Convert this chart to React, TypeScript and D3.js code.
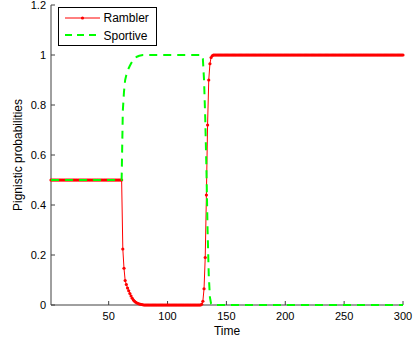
import React from "react";
import * as d3 from "d3";

// Time domain and tick labels
const timeDomain: [number, number] = [1, 300];
const xTicks = [50, 100, 150, 200, 250, 300];
const yTicks = [0, 0.2, 0.4, 0.6, 0.8, 1, 1.2];

// Constant runs: [fromTime, toTime, value]
const ramblerRuns: [number, number, number][] = [
  [1, 61, 0.5],
  [80, 128, 0],
  [139, 300, 1],
];
// Individual readings during transitions: [time, value]
const ramblerPoints: [number, number][] = [
  [62, 0.224], [63, 0.147], [64, 0.098], [65, 0.082], [66, 0.068], [67, 0.057],
  [68, 0.046], [69, 0.036], [70, 0.027], [71, 0.02], [72, 0.015], [73, 0.011],
  [74, 0.008], [75, 0.006], [76, 0.004], [77, 0.003], [78, 0.002], [79, 0.001],
  [129, 0.003], [130, 0.015], [131, 0.065], [132, 0.19], [133, 0.44], [134, 0.72],
  [135, 0.9], [136, 0.965], [137, 0.99], [138, 0.997],
];

const sportiveRuns: [number, number, number][] = [
  [1, 61, 0.5],
  [79, 129, 1],
  [138, 300, 0],
];
const sportivePoints: [number, number][] = [
  [62, 0.776], [63, 0.853], [64, 0.9], [65, 0.92], [66, 0.935], [67, 0.947],
  [68, 0.957], [69, 0.966], [70, 0.974], [71, 0.981], [72, 0.986], [73, 0.99],
  [74, 0.993], [75, 0.995], [76, 0.997], [77, 0.998], [78, 0.999],
  [130, 0.985], [131, 0.9], [132, 0.75], [133, 0.55], [134, 0.3], [135, 0.12],
  [136, 0.03], [137, 0.005],
];

function expand(runs: [number, number, number][], pts: [number, number][]) {
  const out: [number, number][] = [];
  runs.forEach(([a, b, v]) => {
    for (let t = a; t <= b; t++) out.push([t, v]);
  });
  pts.forEach((p) => out.push(p));
  out.sort((p, q) => p[0] - q[0]);
  return out;
}

const rambler = expand(ramblerRuns, ramblerPoints);
const sportive = expand(sportiveRuns, sportivePoints);

export default function App() {
  const W = 414, H = 340;
  const x = d3.scaleLinear().domain(timeDomain).range([51, 403]);
  const y = d3.scaleLinear().domain([0, 1.2]).range([305, 5]);
  const line = d3
    .line<[number, number]>()
    .x((d) => x(d[0]))
    .y((d) => y(d[1]));
  const axisColor = "#404040";
  const font = "'Liberation Sans', Arial, Helvetica, sans-serif";

  return (
    <svg
      width={W}
      height={H}
      style={{ position: "absolute", left: 0, top: 0, background: "#fff" }}
      fontFamily={font}
    >
      <rect width={W} height={H} fill="#fff" />
      {/* axes */}
      <line x1={x(1)} x2={x(1)} y1={y(0)} y2={y(1.2)} stroke={axisColor} strokeWidth={1} />
      <line x1={x(1)} x2={x(300)} y1={y(0)} y2={y(0)} stroke={axisColor} strokeWidth={1} />
      {xTicks.map((t) => (
        <g key={"x" + t}>
          <line x1={x(t)} x2={x(t)} y1={y(0)} y2={y(0) - 4} stroke={axisColor} />
          <text x={x(t)} y={319.5} fontSize={11} textAnchor="middle" fill="#000">
            {t}
          </text>
        </g>
      ))}
      {yTicks.map((t) => (
        <g key={"y" + t}>
          <line x1={x(1)} x2={x(1) + 4} y1={y(t)} y2={y(t)} stroke={axisColor} />
          <text x={46} y={y(t) + 4} fontSize={11} textAnchor="end" fill="#000">
            {t}
          </text>
        </g>
      ))}
      <text x={227} y={335} fontSize={12} textAnchor="middle" fill="#000">
        Time
      </text>
      <text
        transform={`translate(22,155) rotate(-90)`}
        fontSize={12}
        textAnchor="middle"
        fill="#000"
      >
        Pignistic probabilities
      </text>

      {/* Rambler */}
      <path d={line(rambler) || ""} fill="none" stroke="#ff0000" strokeWidth={1} />
      {rambler.map((d, i) => (
        <circle key={"r" + i} cx={x(d[0])} cy={y(d[1])} r={1.6} fill="#ff0000" />
      ))}
      {/* Sportive */}
      <path
        d={line(sportive) || ""}
        fill="none"
        stroke="#00ff00"
        strokeWidth={2}
        strokeDasharray="8,6"
      />

      {/* legend */}
      <rect x={58.5} y={7.5} width={98} height={38} fill="#fff" stroke="#000" strokeWidth={1} />
      <line x1={65} x2={100} y1={18} y2={18} stroke="#ff0000" strokeWidth={1} />
      <circle cx={82.5} cy={18} r={1.6} fill="#ff0000" />
      <text x={103.5} y={22} fontSize={12} fill="#000">
        Rambler
      </text>
      <line
        x1={65}
        x2={100}
        y1={35}
        y2={35}
        stroke="#00ff00"
        strokeWidth={2}
        strokeDasharray="7,5"
      />
      <text x={103.5} y={39.5} fontSize={12} fill="#000">
        Sportive
      </text>
    </svg>
  );
}
